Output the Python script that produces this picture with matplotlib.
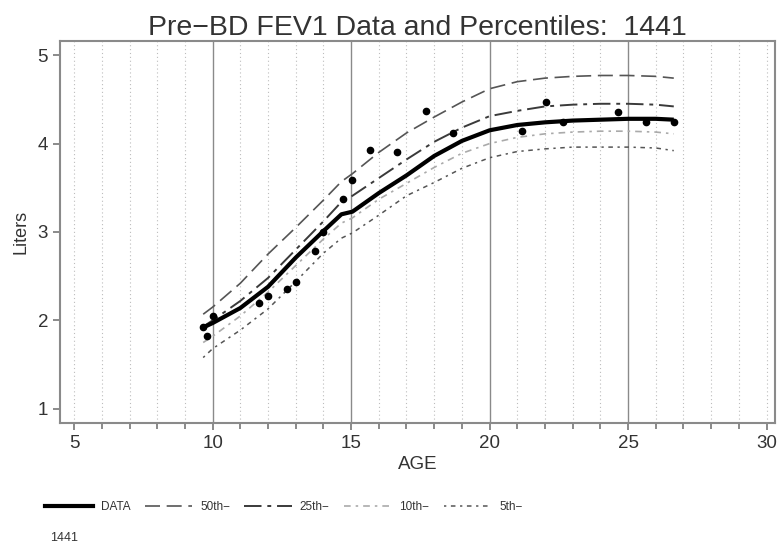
import numpy as np
import matplotlib
matplotlib.use("Agg")
import matplotlib.pyplot as plt
from matplotlib.lines import Line2D

plt.rcParams['font.family'] = ['Liberation Sans', 'DejaVu Sans']

# visit ages and measured FEV1 (points)
pt_age = [9.66, 9.78, 10.02, 11.69, 12.01, 12.70, 13.00, 13.68, 13.99, 14.71, 15.03,
          15.67, 16.67, 17.71, 18.68, 21.17, 22.03, 22.64, 24.65, 25.66, 26.64]
pt_fev1 = [1.93, 1.82, 2.05, 2.20, 2.28, 2.36, 2.43, 2.78, 3.00, 3.37, 3.59,
           3.93, 3.90, 4.37, 4.12, 4.14, 4.47, 4.24, 4.36, 4.24, 4.24]

# ages for the fitted curve and the percentile curves
curve_age = [9.66, 10, 11, 12, 13, 14, 14.65, 15.05, 16, 17, 18, 19, 20,
             21, 22, 23, 24, 25, 26, 26.65]
data_fit = [1.92, 1.97, 2.14, 2.38, 2.71, 3.01, 3.20, 3.23, 3.44, 3.64, 3.86, 4.03, 4.15,
            4.21, 4.24, 4.26, 4.27, 4.28, 4.28, 4.27]
p50 = [2.07, 2.15, 2.42, 2.75, 3.05, 3.36, 3.57, 3.66, 3.90, 4.12, 4.30, 4.47, 4.62,
       4.70, 4.74, 4.76, 4.77, 4.77, 4.76, 4.74]
p25 = [1.93, 2.00, 2.22, 2.48, 2.80, 3.12, 3.34, 3.41, 3.61, 3.82, 4.02, 4.18, 4.31,
       4.37, 4.42, 4.44, 4.45, 4.45, 4.44, 4.42]
p10 = [1.75, 1.82, 2.05, 2.32, 2.62, 2.92, 3.10, 3.16, 3.37, 3.55, 3.73, 3.89, 4.00,
       4.07, 4.11, 4.13, 4.14, 4.14, 4.13, 4.11]
p5 = [1.58, 1.68, 1.89, 2.13, 2.44, 2.76, 2.93, 2.99, 3.19, 3.41, 3.56, 3.72, 3.84,
      3.91, 3.94, 3.96, 3.96, 3.96, 3.95, 3.92]

subject = "1441"

fig = plt.figure(figsize=(7.78, 5.54), dpi=100)
ax = fig.add_axes([0.0771, 0.2365, 0.9189, 0.6895])

# grid: solid at every 5, dotted at each year
for a in range(5, 31):
    if a in (10, 15, 20, 25):
        ax.axvline(a, color='#8a8a8a', lw=1.0, zorder=1)
    else:
        ax.axvline(a, color='#bdbdbd', lw=0.8, ls=(0, (1, 2.5)), zorder=1)

styles = [
    (p50, dict(color='#555555', lw=1.2, dashes=(9, 4))),
    (p25, dict(color='#3a3a3a', lw=1.4, dashes=(9, 3, 2, 3))),
    (p10, dict(color='#aaaaaa', lw=1.2, dashes=(4, 3, 1.5, 3))),
    (p5, dict(color='#555555', lw=1.1, dashes=(1.5, 3, 3, 3))),
]
for vals, st in styles:
    ax.plot(curve_age, vals, zorder=2, **st)

ax.plot(curve_age, data_fit, color='black', lw=3.0, solid_capstyle='butt', zorder=3)
ax.plot(pt_age, pt_fev1, 'o', color='black', ms=4.5, zorder=4)

ax.set_xlim(4.49, 30.3)
ax.set_ylim(0.84, 5.16)
ax.set_xticks([5, 10, 15, 20, 25, 30])
ax.set_xticks(range(5, 31), minor=True)
ax.set_yticks([1, 2, 3, 4, 5])
ax.tick_params(axis='both', which='both', direction='out', color='#777777',
               labelcolor='#333333', labelsize=13.5, width=1.2)
ax.tick_params(which='major', length=5)
ax.tick_params(which='minor', length=4)
for s in ax.spines.values():
    s.set_color('#8a8a8a')
    s.set_linewidth(1.5)

ax.set_xlabel('AGE', fontsize=13.5, color='#333333', labelpad=3)
ax.set_ylabel('Liters', fontsize=13, color='#333333', labelpad=6)
ax.set_title('Pre\u2212BD FEV1 Data and Percentiles:  ' + subject,
             fontsize=20.5, color='#333333', pad=4)

handles = [Line2D([], [], color='black', lw=3.0)]
for vals, st in styles:
    handles.append(Line2D([], [], **st))
labels = ['DATA', '50th\u2212', '25th\u2212', '10th\u2212', '5th\u2212']
fig.legend(handles, labels, ncol=5, loc='center', bbox_to_anchor=(0.365, 0.085),
           frameon=False, handlelength=4.0, columnspacing=1.2, handletextpad=0.7,
           prop={'size': 8.5}, labelcolor='#333333', borderpad=0)

fig.text(0.064, 0.024, subject, fontsize=9, color='#333333')

fig.savefig('out.png', dpi=100)
